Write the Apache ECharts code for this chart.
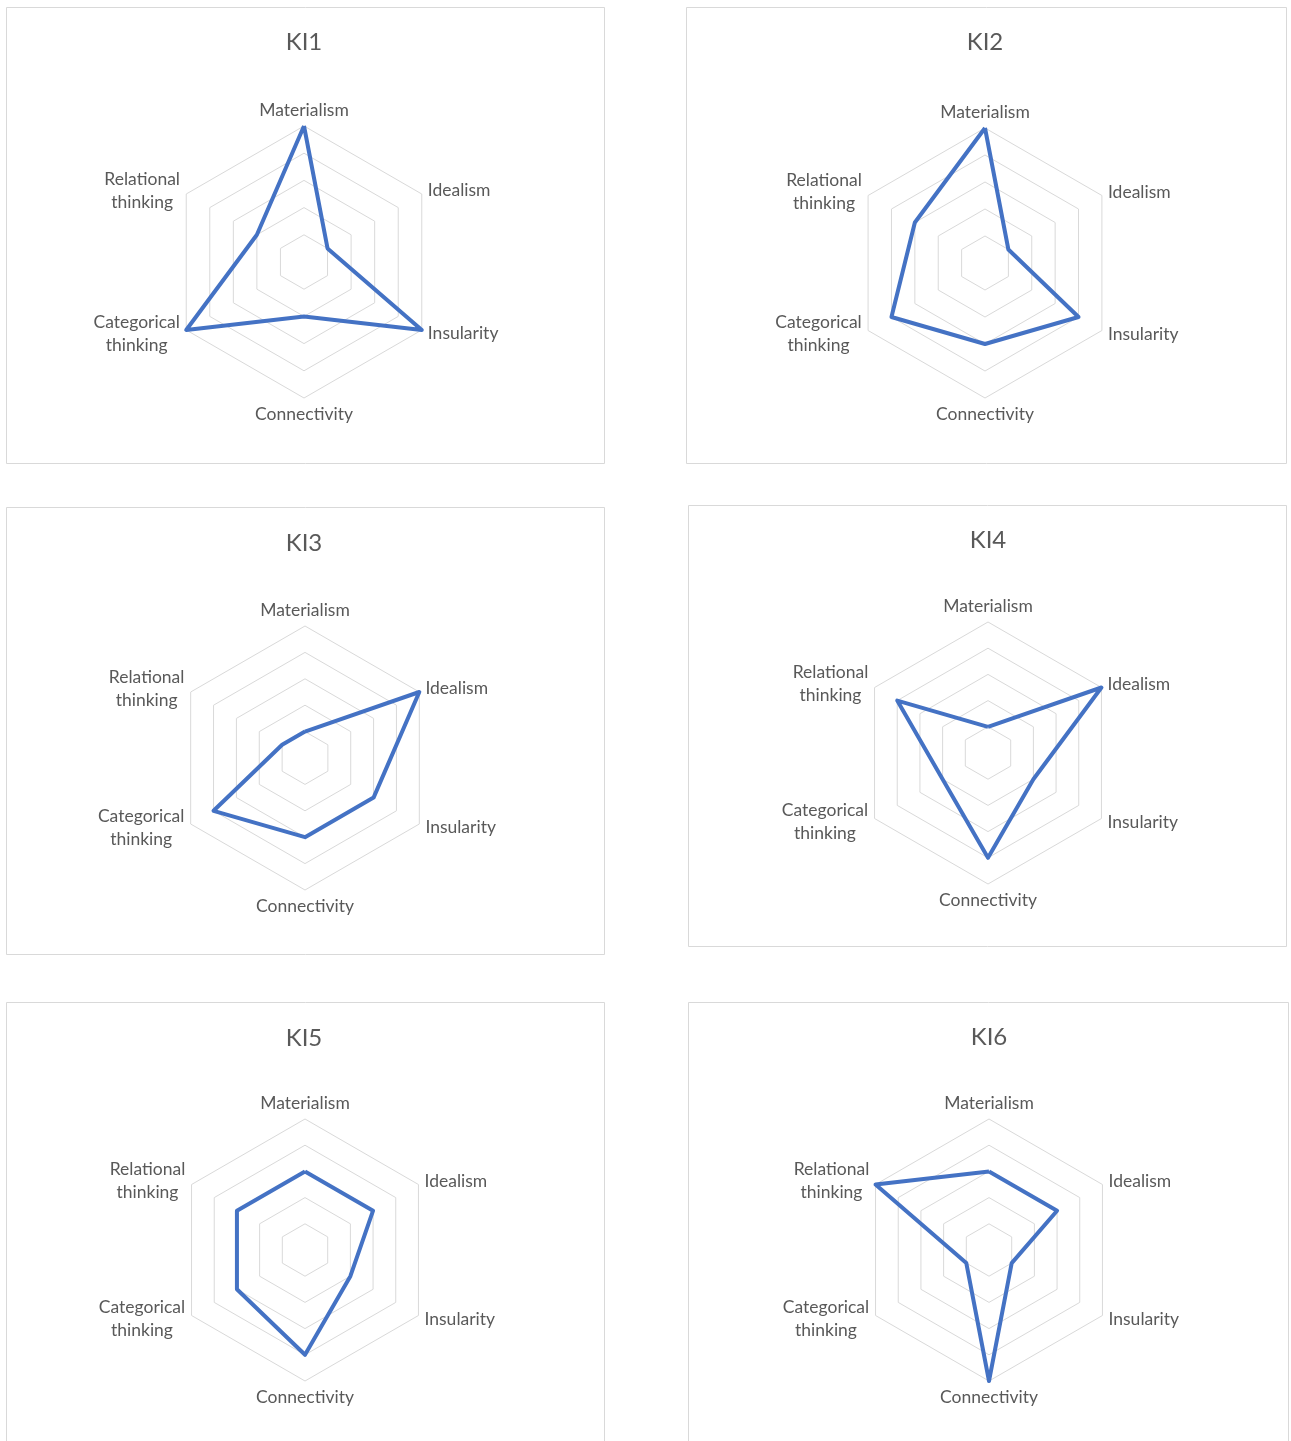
<!DOCTYPE html>
<html><head><meta charset="utf-8">
<script src="https://cdn.jsdelivr.net/npm/echarts@6/dist/echarts.min.js"></script>
<style>html,body{margin:0;padding:0;background:#fff}#c{width:1291px;height:1441px}</style>
</head><body><div id="c"></div>
<script>
// Axes in reading order (clockwise from top)
const categories = ['Materialism', 'Idealism', 'Insularity', 'Connectivity', 'Categorical thinking', 'Relational thinking'];
const chartTitles = ['KI1', 'KI2', 'KI3', 'KI4', 'KI5', 'KI6'];
const ki1 = [5, 1, 5, 2, 5, 2];
const ki2 = [5, 1, 4, 3, 4, 3];
const ki3 = [1, 5, 3, 3, 4, 1];
const ki4 = [1, 5, 2, 4, 2, 4];
const ki5 = [3, 3, 2, 4, 3, 3];
const ki6 = [3, 3, 1, 5, 1, 5];
const axisMin = 0;
const axisMax = 5;
const ringCount = 5;

const seriesValues = [ki1, ki2, ki3, ki4, ki5, ki6];

// layout of the six panels (box, radar centre, radius, title anchor)
const panels = [
  { box: [6, 7, 598, 456], center: [304, 262], r: 136, title: [304, 42] },
  { box: [686, 7, 600, 456], center: [985, 263], r: 135, title: [985, 42] },
  { box: [6, 507, 598, 447], center: [305, 758], r: 132, title: [304, 543] },
  { box: [688, 505, 598, 441], center: [988, 753], r: 131, title: [988, 540] },
  { box: [6, 1002, 598, 460], center: [305, 1250], r: 131, title: [304, 1038] },
  { box: [688, 1002, 600, 460], center: [989, 1250], r: 131, title: [989, 1037] }
];

// ECharts places indicators counter-clockwise; reorder so they read clockwise
const order = [0, 5, 4, 3, 2, 1];

const FONT = 'Lato';
const GREY = '#595959';
const LABEL_SIZE = 17.5;

function wordStyle(w) {
  return { width: w, align: 'center', fontSize: LABEL_SIZE, lineHeight: 23, color: GREY, fontFamily: FONT };
}

const radars = [], series = [], titles = [], graphics = [];
panels.forEach(function (p, i) {
  radars.push({
    center: p.center,
    radius: p.r,
    startAngle: 90,
    splitNumber: ringCount,
    shape: 'polygon',
    nameGap: 7,
    indicator: order.map(function (k) { return { name: categories[k], min: axisMin, max: axisMax }; }),
    axisName: {
      color: GREY, fontSize: LABEL_SIZE, fontFamily: FONT,
      formatter: function (name) {
        if (name.indexOf(' ') > 0) {
          const key = name.charAt(0) === 'R' ? 'r' : 'c';
          return name.split(' ').map(function (s) { return '{' + key + '|' + s + '}'; }).join('\n');
        }
        return name;
      },
      rich: { r: wordStyle(76), c: wordStyle(87) }
    },
    axisLine: { show: false },
    axisTick: { show: false },
    axisLabel: { show: false },
    splitArea: { show: false },
    splitLine: { lineStyle: { color: '#d9d9d9', width: 1 } }
  });
  series.push({
    type: 'radar',
    radarIndex: i,
    symbol: 'none',
    silent: true,
    lineStyle: { color: '#4472C4', width: 4, join: 'round' },
    data: [{ name: chartTitles[i], value: order.map(function (k) { return seriesValues[i][k]; }) }]
  });
  titles.push({
    text: chartTitles[i],
    left: p.title[0] - 5,
    top: p.title[1] - 17,
    textAlign: 'center',
    textStyle: { color: GREY, fontSize: 24, fontWeight: 'normal', fontFamily: FONT }
  });
  graphics.push({
    type: 'rect',
    shape: { x: p.box[0] + 0.5, y: p.box[1] + 0.5, width: p.box[2], height: p.box[3] },
    style: { fill: 'none', stroke: '#d9d9d9', lineWidth: 1 },
    silent: true, z: -1
  });
});

const chart = echarts.init(document.getElementById('c'), null, { renderer: 'canvas' });
chart.setOption({
  backgroundColor: '#ffffff',
  animation: false,
  title: titles,
  radar: radars,
  series: series,
  graphic: graphics
});
</script>
</body></html>
